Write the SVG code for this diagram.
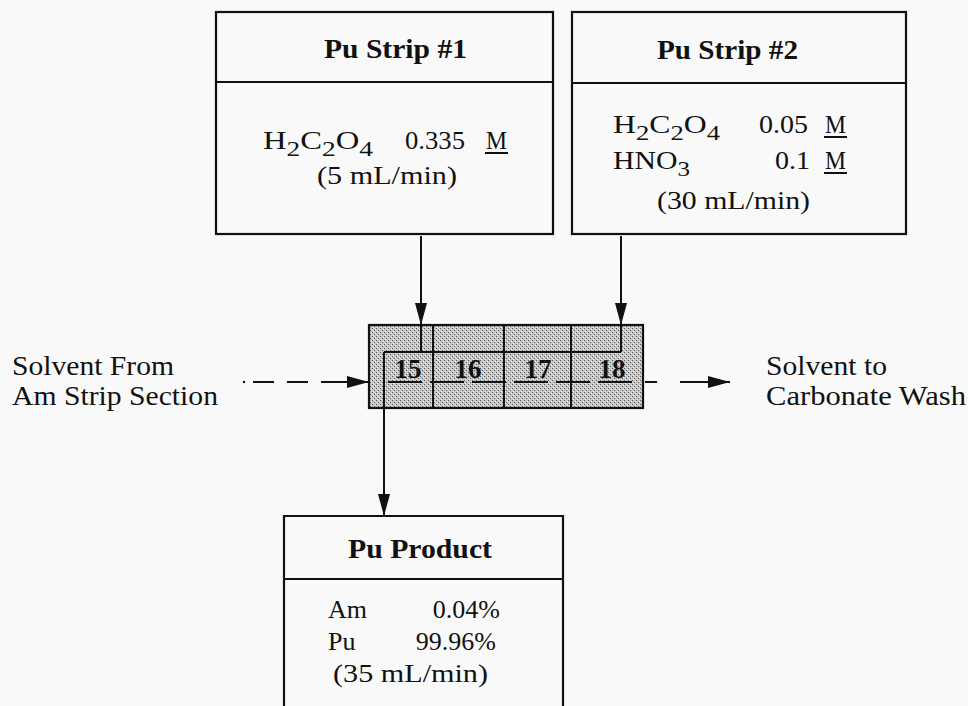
<svg xmlns="http://www.w3.org/2000/svg" width="968" height="706" viewBox="0 0 968 706">
<style>
text{font-family:"Liberation Serif","Times New Roman",serif;fill:#111}
.t{font-size:27px;font-weight:bold}
.b{font-size:25px}
.p{font-size:26px}
.o{font-size:27px}
.n{font-size:27px;font-weight:bold}
.box{fill:none;stroke:#111;stroke-width:2.2}
.ln{fill:none;stroke:#111;stroke-width:2}
</style>
<defs>
<pattern id="stip" width="4" height="4" patternUnits="userSpaceOnUse">
<rect width="4" height="4" fill="#c6c6c6"/>
<rect x="0" y="0" width="1" height="1" fill="#5a5a5a"/>
<rect x="2" y="2" width="1" height="1" fill="#5a5a5a"/>
<rect x="3" y="1" width="1" height="1" fill="#eeeeee"/>
<rect x="1" y="3" width="1" height="1" fill="#eeeeee"/>
</pattern>
<marker id="ah" viewBox="0 0 22 12" refX="22" refY="6" markerWidth="22" markerHeight="12" markerUnits="userSpaceOnUse" orient="auto">
<path d="M0,0 L22,6 L0,12 Z" fill="#111"/>
</marker>
</defs>
<rect width="968" height="706" fill="#f9f9f9"/>

<g id="strip1">
<rect class="box" x="216" y="12" width="337" height="222"/>
<line class="ln" x1="215" y1="82" x2="553" y2="82"/>
<text class="t" x="324" y="58" textLength="143" lengthAdjust="spacingAndGlyphs">Pu Strip #1</text>
<text class="b" x="263" y="149" textLength="110" lengthAdjust="spacingAndGlyphs">H<tspan dy="7" font-size="21">2</tspan><tspan dy="-7">C</tspan><tspan dy="7" font-size="21">2</tspan><tspan dy="-7">O</tspan><tspan dy="7" font-size="21">4</tspan></text>
<text class="b" x="405" y="149" textLength="60" lengthAdjust="spacingAndGlyphs">0.335</text>
<text class="b" x="486" y="149" textLength="21" lengthAdjust="spacingAndGlyphs">M</text>
<line class="ln" x1="485" y1="153" x2="508" y2="153" stroke-width="1.5"/>
<text class="b" x="317" y="184" textLength="140" lengthAdjust="spacingAndGlyphs">(5 mL/min)</text>
</g>

<g id="strip2">
<rect class="box" x="572" y="12" width="334" height="222"/>
<line class="ln" x1="572" y1="83" x2="906" y2="83"/>
<text class="t" x="657" y="59" textLength="141" lengthAdjust="spacingAndGlyphs">Pu Strip #2</text>
<text class="b" x="613" y="133" textLength="107" lengthAdjust="spacingAndGlyphs">H<tspan dy="7" font-size="21">2</tspan><tspan dy="-7">C</tspan><tspan dy="7" font-size="21">2</tspan><tspan dy="-7">O</tspan><tspan dy="7" font-size="21">4</tspan></text>
<text class="b" x="759" y="133" textLength="49" lengthAdjust="spacingAndGlyphs">0.05</text>
<text class="b" x="825" y="133" textLength="21" lengthAdjust="spacingAndGlyphs">M</text>
<line class="ln" x1="824" y1="137" x2="847" y2="137" stroke-width="1.5"/>
<text class="b" x="613" y="169" textLength="77" lengthAdjust="spacingAndGlyphs">HNO<tspan dy="7" font-size="21">3</tspan></text>
<text class="b" x="775" y="169" textLength="35" lengthAdjust="spacingAndGlyphs">0.1</text>
<text class="b" x="825" y="169" textLength="21" lengthAdjust="spacingAndGlyphs">M</text>
<line class="ln" x1="824" y1="173" x2="847" y2="173" stroke-width="1.5"/>
<text class="b" x="657" y="209" textLength="153" lengthAdjust="spacingAndGlyphs">(30 mL/min)</text>
</g>

<g id="stages">
<rect x="369" y="325" width="274" height="83" fill="url(#stip)" stroke="#111" stroke-width="2.2"/>
<line class="ln" x1="421" y1="325" x2="421" y2="352"/>
<line class="ln" x1="621" y1="325" x2="621" y2="352"/>
<line class="ln" x1="384" y1="352" x2="621" y2="352"/>
<line class="ln" x1="384" y1="352" x2="384" y2="408"/>
<line class="ln" x1="433" y1="325" x2="433" y2="408"/>
<line class="ln" x1="504" y1="325" x2="504" y2="408"/>
<line class="ln" x1="571" y1="325" x2="571" y2="408"/>
<line class="ln" x1="388" y1="382" x2="640" y2="382" stroke-dasharray="34 8"/>
<text class="n" x="408" y="378" text-anchor="middle">15</text>
<text class="n" x="468" y="378" text-anchor="middle">16</text>
<text class="n" x="538" y="378" text-anchor="middle">17</text>
<text class="n" x="612" y="378" text-anchor="middle">18</text>
</g>

<g id="product">
<path class="box" d="M284,720 V516 H563 V720"/>
<line class="ln" x1="284" y1="579" x2="563" y2="579"/>
<text class="t" x="348" y="558" textLength="144" lengthAdjust="spacingAndGlyphs">Pu Product</text>
<text class="p" x="328" y="618">Am</text>
<text class="p" x="500" y="618" text-anchor="end">0.04%</text>
<text class="p" x="328" y="650">Pu</text>
<text class="p" x="496" y="650" text-anchor="end">99.96%</text>
<text class="p" x="333" y="682" textLength="155" lengthAdjust="spacingAndGlyphs">(35 mL/min)</text>
</g>

<g id="feed-label">
<text class="o" x="12" y="375" textLength="162" lengthAdjust="spacingAndGlyphs">Solvent From</text>
<text class="o" x="12" y="405" textLength="206" lengthAdjust="spacingAndGlyphs">Am Strip Section</text>
</g>

<g id="exit-label">
<text class="o" x="766" y="375" textLength="121" lengthAdjust="spacingAndGlyphs">Solvent to</text>
<text class="o" x="766" y="405" textLength="200" lengthAdjust="spacingAndGlyphs">Carbonate Wash</text>
</g>

<g id="connectors">
<line class="ln" x1="421" y1="236" x2="421" y2="325" marker-end="url(#ah)"/>
<line class="ln" x1="621" y1="236" x2="621" y2="325" marker-end="url(#ah)"/>
<line class="ln" x1="384" y1="408" x2="384" y2="516" marker-end="url(#ah)"/>
<circle cx="244" cy="382" r="1.2" fill="#111"/>
<path class="ln" d="M253,382 H274 M287,382 H308 M321,382 H369" marker-end="url(#ah)"/>
<path class="ln" d="M645,382 H657 M680,382 H730" marker-end="url(#ah)"/>
</g>
</svg>
